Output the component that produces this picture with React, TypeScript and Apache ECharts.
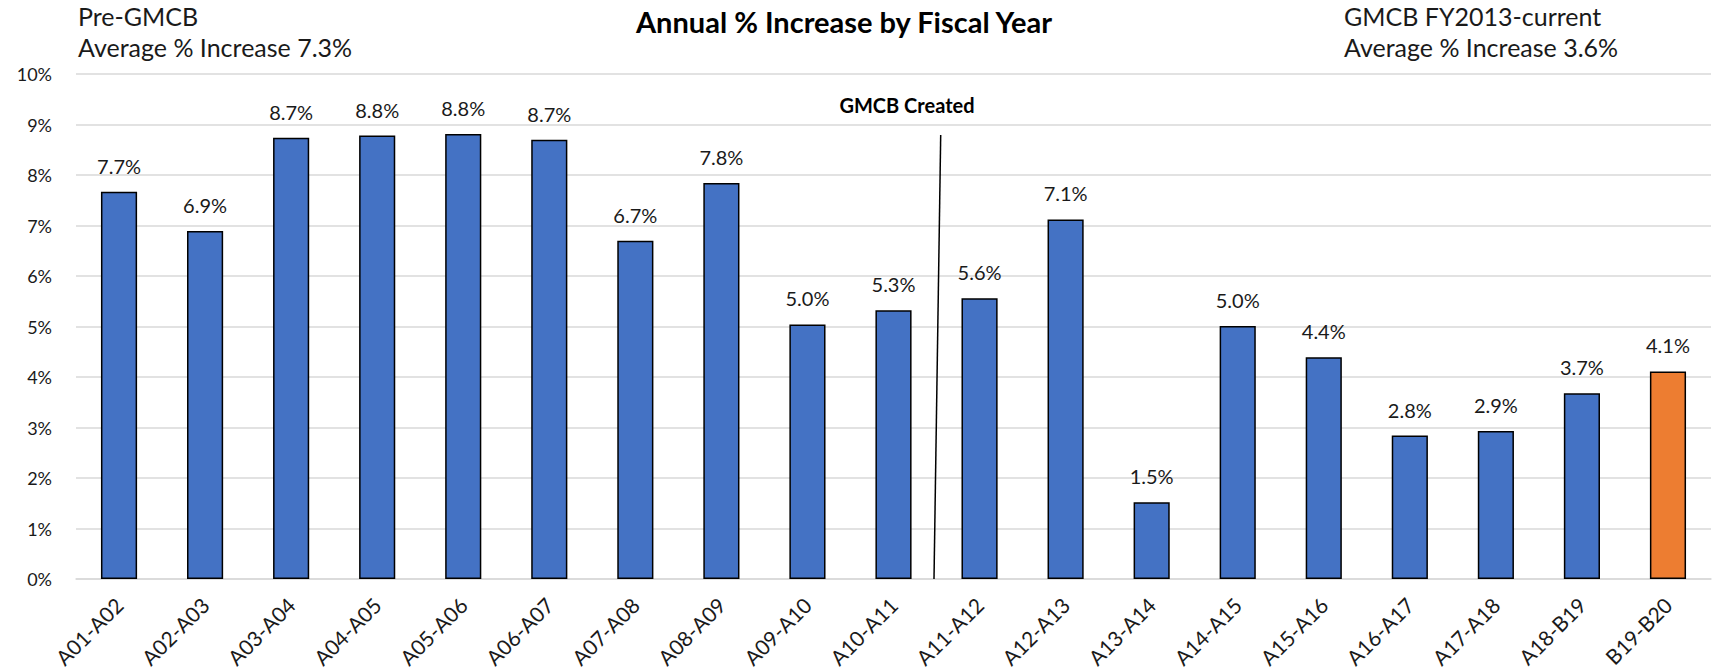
import React, { useEffect, useRef } from "react";
import * as echarts from "echarts";

const categories = [
  "A01-A02", "A02-A03", "A03-A04", "A04-A05", "A05-A06", "A06-A07", "A07-A08",
  "A08-A09", "A09-A10", "A10-A11", "A11-A12", "A12-A13", "A13-A14", "A14-A15",
  "A15-A16", "A16-A17", "A17-A18", "A18-B19", "B19-B20",
];
const increases = [
  7.67, 6.89, 8.74, 8.78, 8.81, 8.7, 6.7, 7.84, 5.04, 5.32, 5.56, 7.12, 1.52,
  5.01, 4.39, 2.84, 2.93, 3.68, 4.11,
];
const highlightIndex = 18;
const yTicks = { min: 0, max: 10, interval: 1 };
const titleText = "Annual % Increase by Fiscal Year";
const leftNote = ["Pre-GMCB", "Average % Increase 7.3%"];
const rightNote = ["GMCB FY2013-current", "Average % Increase 3.6%"];
const dividerText = "GMCB Created";

const FONT = "Lato, 'Open Sans', sans-serif";
const TEXT = "#1a1a1a";

export default function App() {
  const ref = useRef<HTMLDivElement>(null);
  useEffect(() => {
    document.body.style.margin = "0";
    if (!ref.current) return;
    const chart = echarts.init(ref.current, undefined, { renderer: "svg" });
    const note = (text: string, x: number, y: number) => ({
      type: "text",
      x,
      y,
      style: { text, font: `25px ${FONT}`, fill: TEXT, textVerticalAlign: "middle" },
    });
    chart.setOption({
      animation: false,
      textStyle: { fontFamily: FONT },
      grid: {
        left: 76,
        right: 1,
        top: 74,
        bottom: 92,
        containLabel: false,
        outerBoundsMode: "none",
      },
      xAxis: {
        type: "category",
        data: categories,
        axisTick: { show: false },
        axisLine: { lineStyle: { color: "#D9D9D9", width: 1.5 } },
        axisLabel: {
          rotate: 45,
          fontSize: 21,
          color: TEXT,
          margin: 22,
          fontFamily: FONT,
        },
      },
      yAxis: {
        type: "value",
        min: yTicks.min,
        max: yTicks.max,
        interval: yTicks.interval,
        axisLabel: {
          formatter: "{value}%",
          fontSize: 18,
          color: TEXT,
          margin: 24,
          fontFamily: FONT,
        },
        splitLine: { lineStyle: { color: "#D9D9D9", width: 1.5 } },
        axisLine: { show: false },
        axisTick: { show: false },
      },
      series: [
        {
          type: "bar",
          barWidth: "42%",
          data: increases.map((v, i) => ({
            value: v,
            itemStyle: {
              color: i === highlightIndex ? "#ED7D31" : "#4472C4",
              borderColor: "#000",
              borderWidth: 1.5,
            },
          })),
          label: {
            show: true,
            position: "top",
            distance: 16,
            fontSize: 20,
            color: TEXT,
            fontFamily: FONT,
            formatter: (p: any) => p.value.toFixed(1) + "%",
          },
        },
      ],
      graphic: [
        {
          type: "text",
          x: 844,
          y: 21,
          style: {
            text: titleText,
            font: `bold 29px ${FONT}`,
            fill: "#000",
            textAlign: "center",
            textVerticalAlign: "middle",
          },
        },
        note(leftNote[0], 78, 16),
        note(leftNote[1], 78, 47),
        note(rightNote[0], 1344, 16),
        note(rightNote[1], 1344, 47),
        {
          type: "text",
          x: 907,
          y: 105,
          style: {
            text: dividerText,
            font: `bold 20px ${FONT}`,
            fill: "#000",
            textAlign: "center",
            textVerticalAlign: "middle",
          },
        },
        {
          type: "line",
          shape: { x1: 940.7, y1: 135, x2: 934, y2: 579 },
          style: { stroke: "#000", lineWidth: 1.5 },
          z: 10,
        },
      ],
    });
    return () => chart.dispose();
  }, []);
  return <div ref={ref} style={{ width: 1712, height: 671 }} />;
}
